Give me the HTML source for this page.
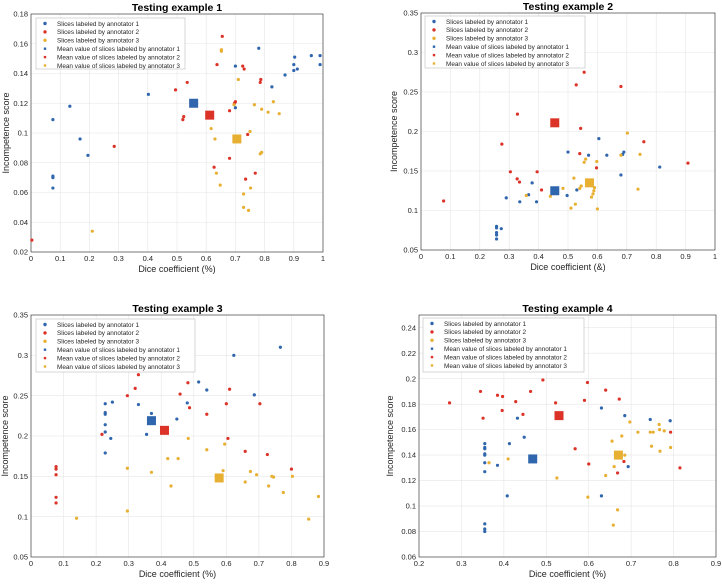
<!DOCTYPE html>
<html><head><meta charset="utf-8"><style>
body{margin:0;background:#fff;}
svg{display:block;font-family:"Liberation Sans",sans-serif;}
</style></head><body>
<svg id="chart" width="722" height="584" viewBox="0 0 722 584" xmlns="http://www.w3.org/2000/svg"></svg>
<script>
// ---- Panel 1 data ----
const p1BlueX=[0.075,0.133,0.075,0.075,0.075,0.168,0.195,0.402,0.70,0.70,0.78,0.825,0.87,0.90,0.90,0.903,0.912,0.96,0.99,0.99];
const p1BlueY=[0.109,0.118,0.071,0.070,0.063,0.096,0.085,0.126,0.145,0.117,0.157,0.131,0.139,0.142,0.146,0.151,0.143,0.152,0.152,0.146];
const p1RedX=[0.003,0.285,0.495,0.52,0.523,0.535,0.637,0.655,0.68,0.697,0.70,0.725,0.73,0.785,0.787,0.742,0.68,0.627,0.768,0.735];
const p1RedY=[0.028,0.091,0.129,0.109,0.111,0.134,0.146,0.165,0.115,0.120,0.121,0.145,0.143,0.134,0.136,0.099,0.083,0.077,0.073,0.069];
const p1YelX=[0.21,0.652,0.652,0.71,0.695,0.765,0.79,0.812,0.83,0.85,0.617,0.63,0.75,0.79,0.785,0.635,0.648,0.752,0.728,0.728,0.745];
const p1YelY=[0.034,0.156,0.155,0.136,0.119,0.119,0.116,0.114,0.121,0.113,0.103,0.096,0.101,0.087,0.086,0.073,0.065,0.063,0.059,0.050,0.048];
const p1Means=[[0.557,0.120],[0.612,0.112],[0.705,0.096]];
// ---- Panel 2 data ----
const p2BlueX=[0.257,0.257,0.257,0.257,0.257,0.273,0.29,0.336,0.366,0.378,0.393,0.497,0.50,0.53,0.57,0.605,0.632,0.68,0.686,0.69,0.812];
const p2BlueY=[0.080,0.078,0.072,0.069,0.064,0.077,0.116,0.111,0.120,0.135,0.111,0.119,0.174,0.126,0.170,0.191,0.170,0.145,0.171,0.174,0.155];
const p2RedX=[0.077,0.275,0.304,0.327,0.328,0.335,0.395,0.41,0.528,0.543,0.54,0.555,0.597,0.68,0.758,0.908];
const p2RedY=[0.112,0.184,0.149,0.140,0.222,0.136,0.149,0.126,0.259,0.204,0.172,0.275,0.154,0.257,0.187,0.160];
const p2YelX=[0.358,0.44,0.483,0.51,0.52,0.525,0.54,0.545,0.555,0.56,0.58,0.585,0.588,0.59,0.598,0.60,0.68,0.702,0.738,0.745];
const p2YelY=[0.119,0.118,0.128,0.103,0.141,0.108,0.128,0.131,0.161,0.165,0.117,0.121,0.125,0.129,0.162,0.102,0.170,0.198,0.127,0.171];
const p2Means=[[0.455,0.125],[0.455,0.211],[0.573,0.135]];
// ---- Panel 3 data ----
const p3BlueX=[0.228,0.228,0.228,0.228,0.228,0.228,0.245,0.25,0.33,0.355,0.37,0.448,0.48,0.515,0.54,0.623,0.686,0.766];
const p3BlueY=[0.240,0.229,0.227,0.214,0.205,0.179,0.197,0.242,0.239,0.202,0.228,0.221,0.241,0.267,0.257,0.300,0.251,0.310];
const p3RedX=[0.077,0.077,0.077,0.077,0.077,0.218,0.296,0.32,0.33,0.403,0.458,0.482,0.487,0.54,0.60,0.605,0.61,0.658,0.703,0.726,0.80];
const p3RedY=[0.162,0.159,0.152,0.124,0.117,0.202,0.250,0.259,0.276,0.210,0.252,0.266,0.235,0.227,0.240,0.197,0.258,0.181,0.240,0.177,0.159];
const p3YelX=[0.14,0.296,0.296,0.37,0.42,0.43,0.452,0.483,0.54,0.59,0.595,0.658,0.674,0.693,0.73,0.74,0.745,0.775,0.803,0.853,0.883];
const p3YelY=[0.098,0.160,0.107,0.155,0.172,0.138,0.172,0.197,0.183,0.157,0.190,0.143,0.156,0.152,0.138,0.150,0.149,0.130,0.150,0.097,0.125];
const p3Means=[[0.37,0.219],[0.41,0.207],[0.578,0.148]];
// ---- Panel 4 data ----
const p4BlueX=[0.355,0.355,0.355,0.355,0.355,0.355,0.355,0.355,0.355,0.355,0.385,0.408,0.413,0.432,0.448,0.63,0.63,0.685,0.693,0.745,0.792];
const p4BlueY=[0.149,0.146,0.145,0.141,0.140,0.134,0.127,0.086,0.082,0.080,0.132,0.108,0.149,0.169,0.154,0.177,0.108,0.171,0.131,0.168,0.167];
const p4RedX=[0.272,0.345,0.351,0.385,0.396,0.397,0.428,0.445,0.463,0.492,0.522,0.568,0.59,0.597,0.60,0.64,0.668,0.672,0.683,0.793,0.815];
const p4RedY=[0.181,0.190,0.169,0.187,0.175,0.186,0.182,0.172,0.190,0.199,0.181,0.145,0.183,0.197,0.133,0.191,0.126,0.184,0.135,0.158,0.130];
const p4YelX=[0.365,0.41,0.525,0.598,0.64,0.655,0.66,0.658,0.668,0.678,0.685,0.697,0.716,0.745,0.748,0.752,0.766,0.767,0.768,0.778,0.793];
const p4YelY=[0.134,0.137,0.122,0.107,0.124,0.151,0.131,0.085,0.097,0.155,0.140,0.166,0.158,0.158,0.147,0.158,0.164,0.160,0.143,0.159,0.146];
const p4Means=[[0.468,0.137],[0.53,0.171],[0.67,0.140]];
// tick labels
const p1XTicks=[0,0.1,0.2,0.3,0.4,0.5,0.6,0.7,0.8,0.9,1];
const p1YTicks=[0.02,0.04,0.06,0.08,0.1,0.12,0.14,0.16,0.18];
const p2XTicks=[0,0.1,0.2,0.3,0.4,0.5,0.6,0.7,0.8,0.9,1];
const p2YTicks=[0.05,0.1,0.15,0.2,0.25,0.3,0.35];
const p3XTicks=[0,0.1,0.2,0.3,0.4,0.5,0.6,0.7,0.8,0.9];
const p3YTicks=[0.05,0.1,0.15,0.2,0.25,0.3,0.35];
const p4XTicks=[0.2,0.3,0.4,0.5,0.6,0.7,0.8,0.9];
const p4YTicks=[0.06,0.08,0.1,0.12,0.14,0.16,0.18,0.2,0.22,0.24];
const legendLabels=["Slices labeled by annotator 1","Slices labeled by annotator 2","Slices labeled by annotator 3","Mean value of slices labeled by annotator 1","Mean value of slices labeled by annotator 2","Mean value of slices labeled by annotator 3"];

const NS="http://www.w3.org/2000/svg";
const svg=document.getElementById('chart');
const COL=["#2f66ad","#dc3328","#e8b033"];
function mk(tag,attrs,parent){const e=document.createElementNS(NS,tag);for(const k in attrs)e.setAttribute(k,attrs[k]);(parent||svg).appendChild(e);return e;}

function panel(id,box,xr,yr,xt,yt,title,xlabel,ylabelX,leg,series,means){
  const g=mk('g',{});
  
  
  const [L,T,R,B]=box;
  const sx=v=>L+(v-xr[0])/(xr[1]-xr[0])*(R-L);
  const sy=v=>B-(v-yr[0])/(yr[1]-yr[0])*(B-T);
  mk('rect',{x:L,y:T,width:R-L,height:B-T,fill:'#fff'},g);
  xt.forEach(v=>{const x=sx(v);
    const gl=mk('line',{x1:x,x2:x,y1:T,y2:B,stroke:'#e6e6e6','stroke-width':0.6},g);
    
    const t=mk('text',{x:x,y:B+9,'font-size':7.5,fill:'#262626','text-anchor':'middle'},g);t.textContent=String(v);
    });
  yt.forEach(v=>{const y=sy(v);
    const gl=mk('line',{x1:L,x2:R,y1:y,y2:y,stroke:'#e6e6e6','stroke-width':0.6},g);
    
    const t=mk('text',{x:L-3,y:y+2.6,'font-size':7.5,fill:'#262626','text-anchor':'end'},g);t.textContent=String(v);
    });
  const fr=mk('rect',{x:L,y:T,width:R-L,height:B-T,fill:'none',stroke:'#262626','stroke-width':0.6},g);
  
  const ti=mk('text',{x:(L+R)/2,y:T-3,'font-size':10.5,'font-weight':'bold','text-anchor':'middle',fill:'#000'},g);ti.textContent=title;
  
  const xl=mk('text',{x:(L+R)/2,y:B+20,'font-size':9,'text-anchor':'middle',fill:'#262626'},g);xl.textContent=xlabel;
  
  const yl=mk('text',{x:ylabelX,y:(T+B)/2,'font-size':9,'text-anchor':'middle',fill:'#262626',transform:`rotate(-90 ${ylabelX} ${(T+B)/2})`},g);yl.textContent='Incompetence score';
  
  series.forEach((s,i)=>{s[0].forEach((xv,j)=>{
    const c=mk('circle',{cx:sx(xv),cy:sy(s[1][j]),r:1.6,fill:COL[i]},g);
    
    });});
  means.forEach((m,i)=>{
    const r=mk('rect',{x:sx(m[0])-4.5,y:sy(m[1])-4.5,width:9,height:9,fill:COL[i]},g);
    
    });
  // legend
  const [lx,ly,lw,lh]=leg;
  const lg=mk('g',{},g);
  
  
  mk('rect',{x:lx,y:ly,width:lw,height:lh,fill:'#fff',stroke:'#bdbdbd','stroke-width':0.6},lg);
  legendLabels.forEach((lab,i)=>{const yy=ly+5.5+i*8.4;
    const ci=i%3;
    if(i<3)mk('circle',{cx:lx+9,cy:yy,r:1.7,fill:COL[ci]},lg);
    else mk('rect',{x:lx+7.8,y:yy-1.2,width:2.4,height:2.4,fill:COL[ci]},lg);
    const t=mk('text',{x:lx+21,y:yy+2.3,'font-size':6.4,fill:'#262626'},lg);t.textContent=lab;
    });
}

panel(1,[31,14,323,252],[0,1],[0.02,0.18],p1XTicks,p1YTicks,'Testing example 1','Dice coefficient (%)',9,[36,18,149,51],
  [[p1BlueX,p1BlueY],[p1RedX,p1RedY],[p1YelX,p1YelY]],p1Means);
panel(2,[421,13,715,250],[0,1],[0.05,0.35],p2XTicks,p2YTicks,'Testing example 2','Dice coefficient (&)',397,[425,16,160,52],
  [[p2BlueX,p2BlueY],[p2RedX,p2RedY],[p2YelX,p2YelY]],p2Means);
panel(3,[31,315,324,557],[0,0.9],[0.05,0.35],p3XTicks,p3YTicks,'Testing example 3','Dice coefficient (%)',8,[36,319,159,53],
  [[p3BlueX,p3BlueY],[p3RedX,p3RedY],[p3YelX,p3YelY]],p3Means);
panel(4,[419,315,716,557],[0.2,0.9],[0.06,0.25],p4XTicks,p4YTicks,'Testing example 4','Dice coefficient (%)',393,[423,318,161,54],
  [[p4BlueX,p4BlueY],[p4RedX,p4RedY],[p4YelX,p4YelY]],p4Means);
</script>
</body></html>
